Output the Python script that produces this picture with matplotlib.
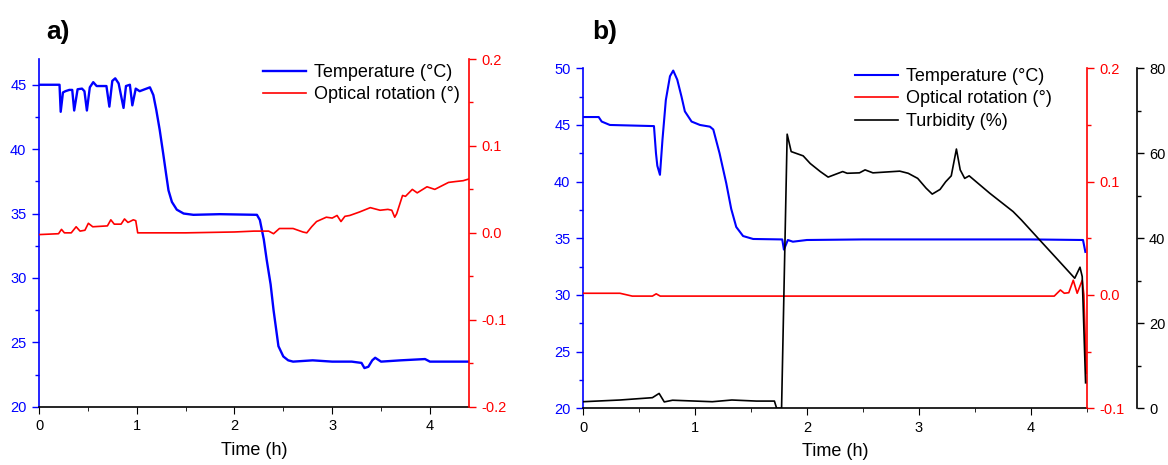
import matplotlib
matplotlib.use("Agg")
import matplotlib.pyplot as plt
from matplotlib.ticker import MultipleLocator, FormatStrFormatter

plt.rcParams['font.family'] = ['Liberation Sans', 'DejaVu Sans']
plt.rcParams['axes.unicode_minus'] = False

# --- panel a) : temperature (°C) vs time (h)
ta_temp = [0, 0.21, 0.222, 0.245, 0.27, 0.31, 0.34, 0.36, 0.395, 0.44, 0.465, 0.49, 0.52, 0.555,
           0.59, 0.69, 0.72, 0.75, 0.78, 0.815, 0.865, 0.89, 0.93, 0.955, 0.99, 1.03, 1.10, 1.135,
           1.17, 1.20, 1.235, 1.27, 1.30, 1.325, 1.36, 1.41, 1.48, 1.58, 1.85, 2.23, 2.26, 2.30,
           2.33, 2.37, 2.40, 2.45, 2.50, 2.55, 2.60, 2.80, 3.00, 3.20, 3.30, 3.33, 3.37, 3.41, 3.44,
           3.50, 3.70, 3.95, 4.00, 4.20, 4.40]
Ta_temp = [45.0, 45.0, 42.9, 44.4, 44.5, 44.6, 44.6, 43.0, 44.65, 44.7, 44.5, 43.0, 44.8, 45.2,
           44.9, 44.9, 43.3, 45.3, 45.5, 45.1, 43.2, 44.9, 45.0, 43.4, 44.7, 44.5, 44.7, 44.8,
           44.2, 43.05, 41.5, 39.7, 38.1, 36.8, 35.9, 35.3, 35.0, 34.9, 34.95, 34.9, 34.5, 33.0,
           31.4, 29.5, 27.5, 24.7, 23.9, 23.6, 23.5, 23.6, 23.5, 23.5, 23.4, 23.0, 23.1, 23.6, 23.8,
           23.5, 23.6, 23.7, 23.5, 23.5, 23.5]

# --- panel a) : optical rotation (°) vs time (h)
ta_rot = [0, 0.20, 0.23, 0.26, 0.33, 0.38, 0.42, 0.47, 0.505, 0.55, 0.70, 0.735, 0.77, 0.84,
          0.875, 0.91, 0.93, 0.965, 0.99, 1.01, 1.5, 2.0, 2.2, 2.26, 2.35, 2.40, 2.46, 2.60,
          2.70, 2.74, 2.79, 2.84, 2.94, 3.00, 3.05, 3.09, 3.13, 3.18, 3.28, 3.39, 3.49, 3.57,
          3.61, 3.64, 3.66, 3.72, 3.75, 3.82, 3.87, 3.97, 4.05, 4.12, 4.19, 4.26, 4.34, 4.40]
Ra_rot = [-0.002, -0.001, 0.004, 0.0, 0.0, 0.007, 0.002, 0.003, 0.011, 0.007, 0.008, 0.015, 0.010,
          0.010, 0.016, 0.012, 0.013, 0.015, 0.014, 0.0, 0.0, 0.001, 0.002, 0.002, 0.002, -0.001,
          0.005, 0.005, 0.001, 0.0, 0.007, 0.013, 0.018, 0.017, 0.020, 0.013, 0.019, 0.020, 0.024,
          0.029, 0.026, 0.027, 0.026, 0.018, 0.022, 0.043, 0.042, 0.050, 0.046, 0.053, 0.050,
          0.054, 0.058, 0.059, 0.060, 0.062]

# --- panel b) : temperature (°C)
tb_temp = [0, 0.14, 0.167, 0.24, 0.634, 0.652, 0.664, 0.6875, 0.71, 0.74, 0.777, 0.806, 0.842,
           0.88, 0.91, 0.97, 1.045, 1.134, 1.164, 1.22, 1.28, 1.324, 1.369, 1.43, 1.52, 1.78,
           1.795, 1.83, 1.875, 2.0, 2.5, 3.0, 3.5, 4.0, 4.467, 4.488]
Tb_temp = [45.7, 45.7, 45.3, 45.0, 44.9, 42.5, 41.4, 40.6, 43.7, 47.2, 49.3, 49.8, 49.0,
           47.5, 46.2, 45.3, 45.0, 44.85, 44.6, 42.5, 39.85, 37.6, 36.0, 35.2, 34.94, 34.9,
           34.0, 34.85, 34.7, 34.85, 34.9, 34.9, 34.9, 34.9, 34.85, 33.8]

# --- panel b) : optical rotation (°)
tb_rot = [0, 0.33, 0.44, 0.62, 0.654, 0.69, 0.76, 2.0, 3.0, 4.21, 4.265, 4.30, 4.34, 4.38,
          4.415, 4.46, 4.475, 4.497]
Rb_rot = [0.0015, 0.0015, -0.001, -0.001, 0.001, -0.001, -0.001, -0.001, -0.001, -0.001, 0.0044,
          0.0015, 0.002, 0.013, 0.0015, 0.013, 0.0, -0.069]

# --- panel b) : turbidity (%)
tb_turb = [0, 0.33, 0.62, 0.68, 0.726, 0.80, 1.155, 1.33, 1.55, 1.71, 1.73, 1.774, 1.824, 1.86,
           1.967, 2.03, 2.12, 2.19, 2.24, 2.32, 2.36, 2.47, 2.52, 2.59, 2.83, 2.905, 2.99, 3.065,
           3.12, 3.19, 3.24, 3.29, 3.336, 3.37, 3.41, 3.45, 3.634, 3.842, 3.917, 4.08, 4.23,
           4.393, 4.44, 4.46, 4.49]
Tb_turb = [1.55, 1.95, 2.5, 3.5, 1.5, 1.9, 1.55, 1.95, 1.7, 1.7, 0.0, 0.0, 64.5, 60.4,
           59.4, 57.6, 55.7, 54.4, 54.9, 55.7, 55.3, 55.4, 56.1, 55.4, 55.8, 55.3, 54.1, 51.8,
           50.4, 51.5, 53.3, 54.7, 61.0, 56.1, 54.1, 54.7, 50.6, 46.3, 44.3, 39.6, 35.3,
           30.6, 33.2, 31.0, 6.0]

W, H = 1168, 465
fig = plt.figure(figsize=(W / 100, H / 100), dpi=100)

tick_fs = 10.5
lab_fs = 13


def style_axis(ax, side, color):
    ax.tick_params(axis='y', which='both', direction='out', colors=color, labelsize=tick_fs, pad=4)
    ax.tick_params(axis='y', which='major', length=5, width=1)
    ax.tick_params(axis='y', which='minor', length=3, width=1)
    ax.spines[side].set_color(color)
    ax.spines[side].set_linewidth(1.2)


def style_x(ax):
    ax.xaxis.set_major_locator(MultipleLocator(1))
    ax.xaxis.set_minor_locator(MultipleLocator(0.5))
    ax.spines['top'].set_visible(False)
    ax.spines['right'].set_visible(False)
    ax.tick_params(axis='x', which='both', direction='out', labelsize=tick_fs, length=5, pad=4)
    ax.tick_params(axis='x', which='minor', length=3)
    ax.spines['bottom'].set_linewidth(1.2)
    ax.set_xlabel('Time (h)', fontsize=lab_fs, labelpad=6)


def only_right(ax):
    for s in ['top', 'left', 'bottom']:
        ax.spines[s].set_visible(False)


leg_kw = dict(loc='upper left', frameon=False, fontsize=lab_fs, borderaxespad=0, borderpad=0,
              handlelength=2.4, labelspacing=0.3, handletextpad=0.45)

# ===================== a) =====================
axa = fig.add_axes([39 / W, 1 - 406.7 / H, 430 / W, 347.7 / H])
axa.plot(ta_temp, Ta_temp, color='blue', lw=1.7, label='Temperature (°C)')
axa.set_xlim(0, 4.4)
axa.set_ylim(20, 47)
axa.yaxis.set_major_locator(MultipleLocator(5))
axa.yaxis.set_minor_locator(MultipleLocator(2.5))
style_x(axa)
style_axis(axa, 'left', 'blue')

axa2 = axa.twinx()
axa2.plot(ta_rot, Ra_rot, color='red', lw=1.2, label='Optical rotation (°)')
axa2.set_ylim(-0.2, 0.2)
axa2.yaxis.set_major_locator(MultipleLocator(0.1))
axa2.yaxis.set_minor_locator(MultipleLocator(0.05))
axa2.yaxis.set_major_formatter(FormatStrFormatter('%.1f'))
only_right(axa2)
style_axis(axa2, 'right', 'red')

h1, l1 = axa.get_legend_handles_labels()
h2, l2 = axa2.get_legend_handles_labels()
axa2.legend(h1 + h2, l1 + l2, bbox_to_anchor=(263 / W, 1 - 64 / H),
            bbox_transform=fig.transFigure, **leg_kw)

fig.text(46 / W, 1 - 32 / H, 'a)', fontsize=19, fontweight='heavy', va='center')

# ===================== b) =====================
axb = fig.add_axes([583 / W, 1 - 408.3 / H, 503.7 / W, 340 / H])
axb.plot(tb_temp, Tb_temp, color='blue', lw=1.5, label='Temperature (°C)')
axb.set_xlim(0, 4.5)
axb.set_ylim(20, 50)
axb.yaxis.set_major_locator(MultipleLocator(5))
axb.yaxis.set_minor_locator(MultipleLocator(2.5))
style_x(axb)
style_axis(axb, 'left', 'blue')

axb2 = axb.twinx()
axb2.plot(tb_rot, Rb_rot, color='red', lw=1.2, label='Optical rotation (°)')
axb2.set_ylim(-0.1, 0.2)
axb2.yaxis.set_major_locator(MultipleLocator(0.1))
axb2.yaxis.set_minor_locator(MultipleLocator(0.05))
axb2.yaxis.set_major_formatter(FormatStrFormatter('%.1f'))
only_right(axb2)
style_axis(axb2, 'right', 'red')

axb3 = axb.twinx()
axb3.spines['right'].set_position(('axes', 1.099))
axb3.plot(tb_turb, Tb_turb, color='black', lw=1.2, label='Turbidity (%)')
axb3.set_ylim(0, 80)
axb3.yaxis.set_major_locator(MultipleLocator(20))
axb3.yaxis.set_minor_locator(MultipleLocator(10))
only_right(axb3)
style_axis(axb3, 'right', 'black')

hb = []
lb = []
for a in (axb, axb2, axb3):
    h, l = a.get_legend_handles_labels()
    hb += h
    lb += l
axb3.legend(hb, lb, bbox_to_anchor=(855 / W, 1 - 68 / H),
            bbox_transform=fig.transFigure, **leg_kw)

fig.text(592 / W, 1 - 32 / H, 'b)', fontsize=19, fontweight='heavy', va='center')

fig.savefig('out.png', dpi=100)
